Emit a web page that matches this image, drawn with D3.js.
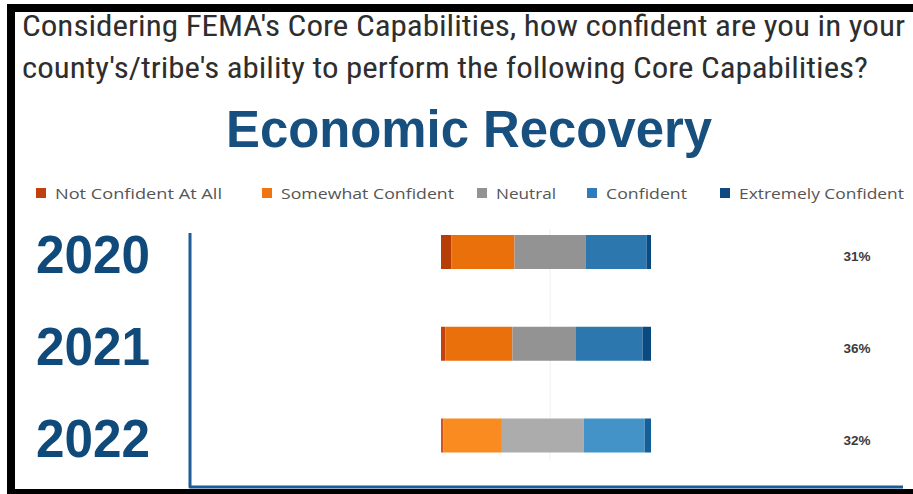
<!DOCTYPE html>
<html>
<head>
<meta charset="utf-8">
<script src="https://cdn.jsdelivr.net/npm/d3@7"></script>
<style>
  html, body { margin: 0; padding: 0; background: #ffffff; }
  svg { display: block; }
</style>
</head>
<body>
<svg id="chart" width="913" height="494"></svg>
<script>
// ---------------- data ----------------
const years = ["2020", "2021", "2022"];
const seriesNames = ["Not Confident At All", "Somewhat Confident", "Neutral", "Confident", "Extremely Confident"];
const notConfident = [5, 2, 1];
const somewhatConfident = [30, 32, 28];
const neutral = [34, 30, 39];
const confident = [29, 32, 29];
const extremelyConfident = [2, 4, 3];
const confidentLabels = ["31%", "36%", "32%"];

const questionLines = [
  "Considering FEMA's Core Capabilities, how confident are you in your",
  "county's/tribe's ability to perform the following Core Capabilities?"
];
const chartTitle = "Economic Recovery";

// ---------------- styles ----------------
const legendColors = ["#c0410e", "#f07410", "#939393", "#2e7dba", "#0f4b82"];
const barColorsByYear = [
  ["#b63d08", "#ea700c", "#939393", "#2c78ae", "#0b4a80"],
  ["#c0420e", "#ea700c", "#939393", "#2c78ae", "#0b4a80"],
  ["#d0561e", "#f98b20", "#acacac", "#4393c8", "#155f98"]
];

const svg = d3.select("#chart");
const W = 913, H = 494;

svg.append("rect").attr("width", W).attr("height", H).attr("fill", "#ffffff");

// frame (black borders)
svg.append("rect").attr("x", 7).attr("y", 4).attr("width", W - 7).attr("height", 8).attr("fill", "#000");
svg.append("rect").attr("x", 7).attr("y", 4).attr("width", 8).attr("height", H - 4).attr("fill", "#000");
svg.append("rect").attr("x", 7).attr("y", 489).attr("width", W - 7).attr("height", 5).attr("fill", "#000");

// question text
const qWidths = [883, 846];
const qBase = [36, 78];
questionLines.forEach((t, i) => {
  svg.append("text")
    .attr("x", 22).attr("y", qBase[i])
    .attr("font-family", "'Liberation Sans Narrow', 'Arial Narrow', 'Roboto Condensed', 'Liberation Sans', Arial, sans-serif")
    .attr("font-size", 30)
    .attr("fill", "#2e2e2e")
    .attr("textLength", qWidths[i])
    .attr("lengthAdjust", "spacingAndGlyphs")
    .text(t);
});

// title
svg.append("text")
  .attr("x", 469).attr("y", 147)
  .attr("text-anchor", "middle")
  .attr("font-family", "'Liberation Sans', Arial, sans-serif")
  .attr("font-weight", "bold")
  .attr("font-size", 51)
  .attr("fill", "#174f7f")
  .attr("textLength", 486)
  .attr("lengthAdjust", "spacingAndGlyphs")
  .text(chartTitle);

// legend
const legendX = [36, 262, 477, 587, 720];
const legendTextW = [167, 173, 60, 81, 165];
const legend = svg.append("g");
seriesNames.forEach((name, i) => {
  legend.append("rect")
    .attr("x", legendX[i]).attr("y", 188)
    .attr("width", 10).attr("height", 10)
    .attr("fill", legendColors[i]);
  legend.append("text")
    .attr("x", legendX[i] + 19).attr("y", 198.5)
    .attr("font-family", "'Open Sans', 'Noto Sans', sans-serif")
    .attr("font-size", 15)
    .attr("fill", "#555555")
    .attr("textLength", legendTextW[i])
    .attr("lengthAdjust", "spacingAndGlyphs")
    .text(name);
});

// scales
const x = d3.scaleLinear().domain([0, 100]).range([441, 651]);
const y = d3.scalePoint().domain(years).range([252, 435.5]);
const barH = 34;

// table for stacking
const keys = ["nc", "sc", "n", "c", "ec"];
const table = years.map((yr, i) => ({
  year: yr,
  nc: notConfident[i], sc: somewhatConfident[i], n: neutral[i],
  c: confident[i], ec: extremelyConfident[i]
}));
const stacked = d3.stack().keys(keys)(table);

// axes lines (left & bottom)
svg.append("path")
  .attr("d", "M190,233 L190,487 L903,487")
  .attr("fill", "none")
  .attr("stroke", "#1d5d94")
  .attr("stroke-width", 3)
  .attr("stroke-linejoin", "round");

// faint center gridline
svg.append("line")
  .attr("x1", x(52)).attr("x2", x(52))
  .attr("y1", 229).attr("y2", 460)
  .attr("stroke", "#f0f0f0").attr("stroke-width", 1);

// bars
stacked.forEach((layer, k) => {
  svg.append("g").selectAll("rect")
    .data(layer)
    .join("rect")
    .attr("x", d => x(d[0]))
    .attr("width", d => x(d[1]) - x(d[0]))
    .attr("y", d => y(d.data.year) - barH / 2)
    .attr("height", barH)
    .attr("fill", (d, i) => barColorsByYear[i][k]);
});

// year labels
svg.append("g").selectAll("text")
  .data(years)
  .join("text")
  .attr("x", 36)
  .attr("y", d => y(d) + 21)
  .attr("font-family", "'Liberation Sans', Arial, sans-serif")
  .attr("font-weight", "bold")
  .attr("font-size", 54)
  .attr("fill", "#0f4a7a")
  .attr("textLength", 114)
  .attr("lengthAdjust", "spacingAndGlyphs")
  .text(d => d);

// percent labels
svg.append("g").selectAll("text")
  .data(years)
  .join("text")
  .attr("x", 857)
  .attr("y", (d, i) => y(d) + 9)
  .attr("text-anchor", "middle")
  .attr("font-family", "'Liberation Sans', Arial, sans-serif")
  .attr("font-weight", "bold")
  .attr("font-size", 13.5)
  .attr("fill", "#3a3a3a")
  .text((d, i) => confidentLabels[i]);
</script>
</body>
</html>
